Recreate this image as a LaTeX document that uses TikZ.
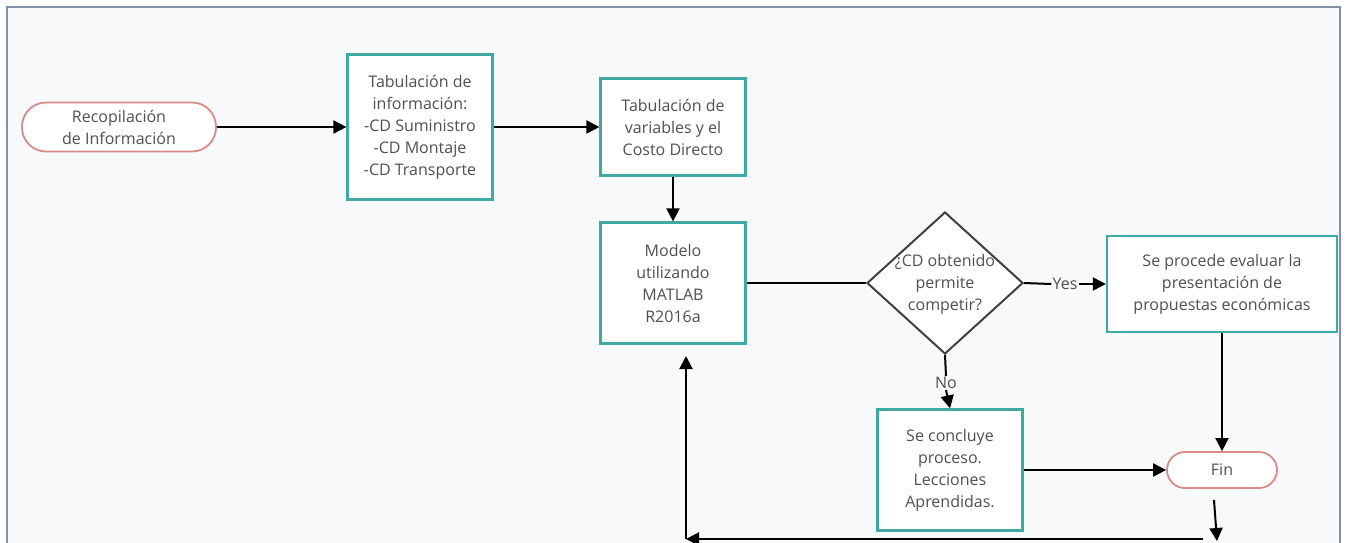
\documentclass[tikz,border=0pt]{standalone}
\usepackage{fontspec}
\setmainfont{Open Sans}
\usetikzlibrary{shapes.geometric,arrows.meta}
\definecolor{teal1}{HTML}{3FA9A3}
\definecolor{pink1}{HTML}{D98A8A}
\definecolor{txtc}{HTML}{505050}
\definecolor{bgc}{HTML}{F8F9FB}
\definecolor{framec}{HTML}{8193A6}
\begin{document}
\begin{tikzpicture}[x=1pt,y=-1pt,
 font=\fontsize{16}{22}\selectfont, text=txtc,
 proc/.style={draw=teal1, line width=2.2pt, fill=white, align=center, inner sep=0pt},
 term/.style={draw=pink1, line width=1.8pt, fill=white, align=center, inner sep=0pt},
 dia/.style={diamond, draw=black!75, line width=2pt, fill=white, inner sep=0pt},
 conn/.style={line width=2pt, black},
 arr/.style={conn, -{Triangle[length=13pt,width=13pt]}},
 lbl/.style={inner sep=1pt, align=center}]
\useasboundingbox (0,0) rectangle (1347,542);
\fill[white] (0,0) rectangle (1347,542);
\begin{scope}
\clip (0,0) rectangle (1347,542);
\draw[draw=framec, fill=bgc, line width=1.5pt] (7,7) rectangle (1340,600);
\end{scope}

\node[term, minimum width=194pt, minimum height=49pt, rounded corners=24pt] (rec) at (119,127) {Recopilación\\de Información};
\node[proc, minimum width=145pt, minimum height=145pt] (ti) at (420,127) {Tabulación de\\información:\\-CD Suministro\\-CD Montaje\\-CD Transporte};
\node[proc, minimum width=145pt, minimum height=97pt] (tv) at (673,127) {Tabulación de\\variables y el\\Costo Directo};
\node[proc, minimum width=145pt, minimum height=121pt] (mod) at (673,283) {Modelo\\utilizando\\MATLAB\\R2016a};
\node[dia, minimum width=156pt, minimum height=142pt] (d) at (945,283) {};
\node[lbl] (dt) at (945,284) {¿CD obtenido\\permite\\competir?};
\node[proc, minimum width=230pt, minimum height=96pt] (sp) at (1222,284) {Se procede evaluar la\\presentación de\\propuestas económicas};
\node[proc, minimum width=145pt, minimum height=121pt] (sc) at (950,470) {Se concluye\\proceso.\\Lecciones\\Aprendidas.};
\node[term, minimum width=110pt, minimum height=36pt, rounded corners=18pt] (fin) at (1222,470) {Fin};
\node[lbl, fill=bgc] (yes) at (1065,284) {Yes};
\node[lbl, fill=bgc] (no) at (946,383) {No};

\draw[arr] (rec.east) -- (ti.west);
\draw[arr] (ti.east) -- (tv.west);
\draw[arr] (tv.south) -- (mod.north);
\draw[conn] (mod.east) -- (d.west);
\draw[conn] (d.east) -- (yes.west);
\draw[arr] (yes.east) -- (sp.west);
\draw[conn] (d.south) -- (no.north);
\draw[arr] (no.south) -- (sc.north);
\draw[arr] (sp.south) -- (fin.north);
\draw[arr] (sc.east) -- (fin.west);
\coordinate (f1) at (1214,500);
\coordinate (f2) at (1217,541);
\draw[arr] (f1) -- (f2);
\coordinate (h1) at (1203,539);
\coordinate (h2) at (686,539);
\coordinate (m1) at (686,356);
\draw[arr] (h1) -- (h2);
\draw[arr] (h2) -- (m1);
\end{tikzpicture}
\end{document}
